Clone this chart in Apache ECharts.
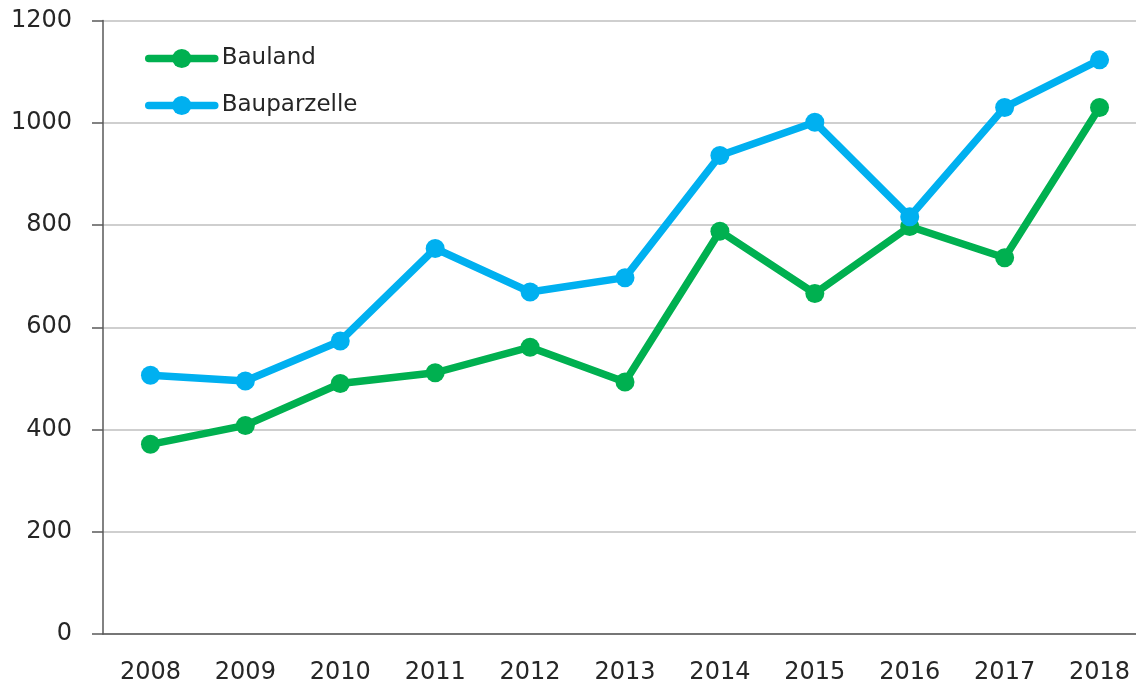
<!DOCTYPE html>
<html>
<head>
<meta charset="utf-8">
<script src="https://cdn.jsdelivr.net/npm/echarts@6/dist/echarts.min.js"></script>
<style>
  html, body { margin: 0; padding: 0; background: #fff; }
  #chart { width: 1136px; height: 681px; }
</style>
</head>
<body>
<div id="chart"></div>
<script>
// Jahre und Werte
var years = ["2008", "2009", "2010", "2011", "2012", "2013", "2014", "2015", "2016", "2017", "2018"];
var bauland = [371, 408, 490, 511, 561, 493, 788, 666, 797, 736, 1030];
var bauparzelle = [506, 495, 573, 754, 669, 697, 936, 1001, 816, 1030, 1123];

var chart = echarts.init(document.getElementById("chart"));

var labelFont = {
  fontFamily: "DejaVu Sans",
  fontSize: 24,
  color: "#262626",
};

var option = {
  animation: false,
  backgroundColor: "#fff",
  grid: {
    left: 103,
    top: 20.5,
    right: -11,
    bottom: 47,
    outerBoundsMode: "none",
    containLabel: false,
  },
  legend: {
    orient: "vertical",
    left: 140,
    top: 42,
    itemWidth: 66,
    itemHeight: 24,
    itemGap: 24,
    lineStyle: { width: 7.5, cap: "round" },
    textStyle: {
      fontFamily: "DejaVu Sans",
      fontSize: 23,
      color: "#262626",
      padding: [0, 0, 0, 2],
    },
    data: ["Bauland", "Bauparzelle"],
  },
  xAxis: {
    type: "category",
    data: years,
    boundaryGap: true,
    axisLine: { lineStyle: { color: "#595959", width: 1.5 } },
    axisTick: { length: 8, lineStyle: { color: "#595959", width: 1.5 } },
    axisLabel: Object.assign({ margin: 27 }, labelFont),
    splitLine: { show: false },
  },
  yAxis: {
    type: "value",
    min: 0,
    max: 1200,
    interval: 200,
    axisLine: { show: true, lineStyle: { color: "#595959", width: 1.5 } },
    axisTick: { show: true, inside: false, length: 11, lineStyle: { color: "#595959", width: 1.5 } },
    axisLabel: Object.assign({ margin: 31, formatter: function (v) { return String(v); } }, labelFont),
    splitLine: { lineStyle: { color: "#bfbfbf", width: 1.5 } },
  },
  series: [
    {
      name: "Bauland",
      type: "line",
      data: bauland,
      symbol: "circle",
      symbolSize: 19,
      color: "#00b050",
      lineStyle: { width: 7.5, cap: "round", join: "round" },
      itemStyle: { color: "#00b050" },
    },
    {
      name: "Bauparzelle",
      type: "line",
      data: bauparzelle,
      symbol: "circle",
      symbolSize: 19,
      color: "#00b0f0",
      lineStyle: { width: 7.5, cap: "round", join: "round" },
      itemStyle: { color: "#00b0f0" },
    },
  ],
};

chart.setOption(option);
</script>
</body>
</html>
